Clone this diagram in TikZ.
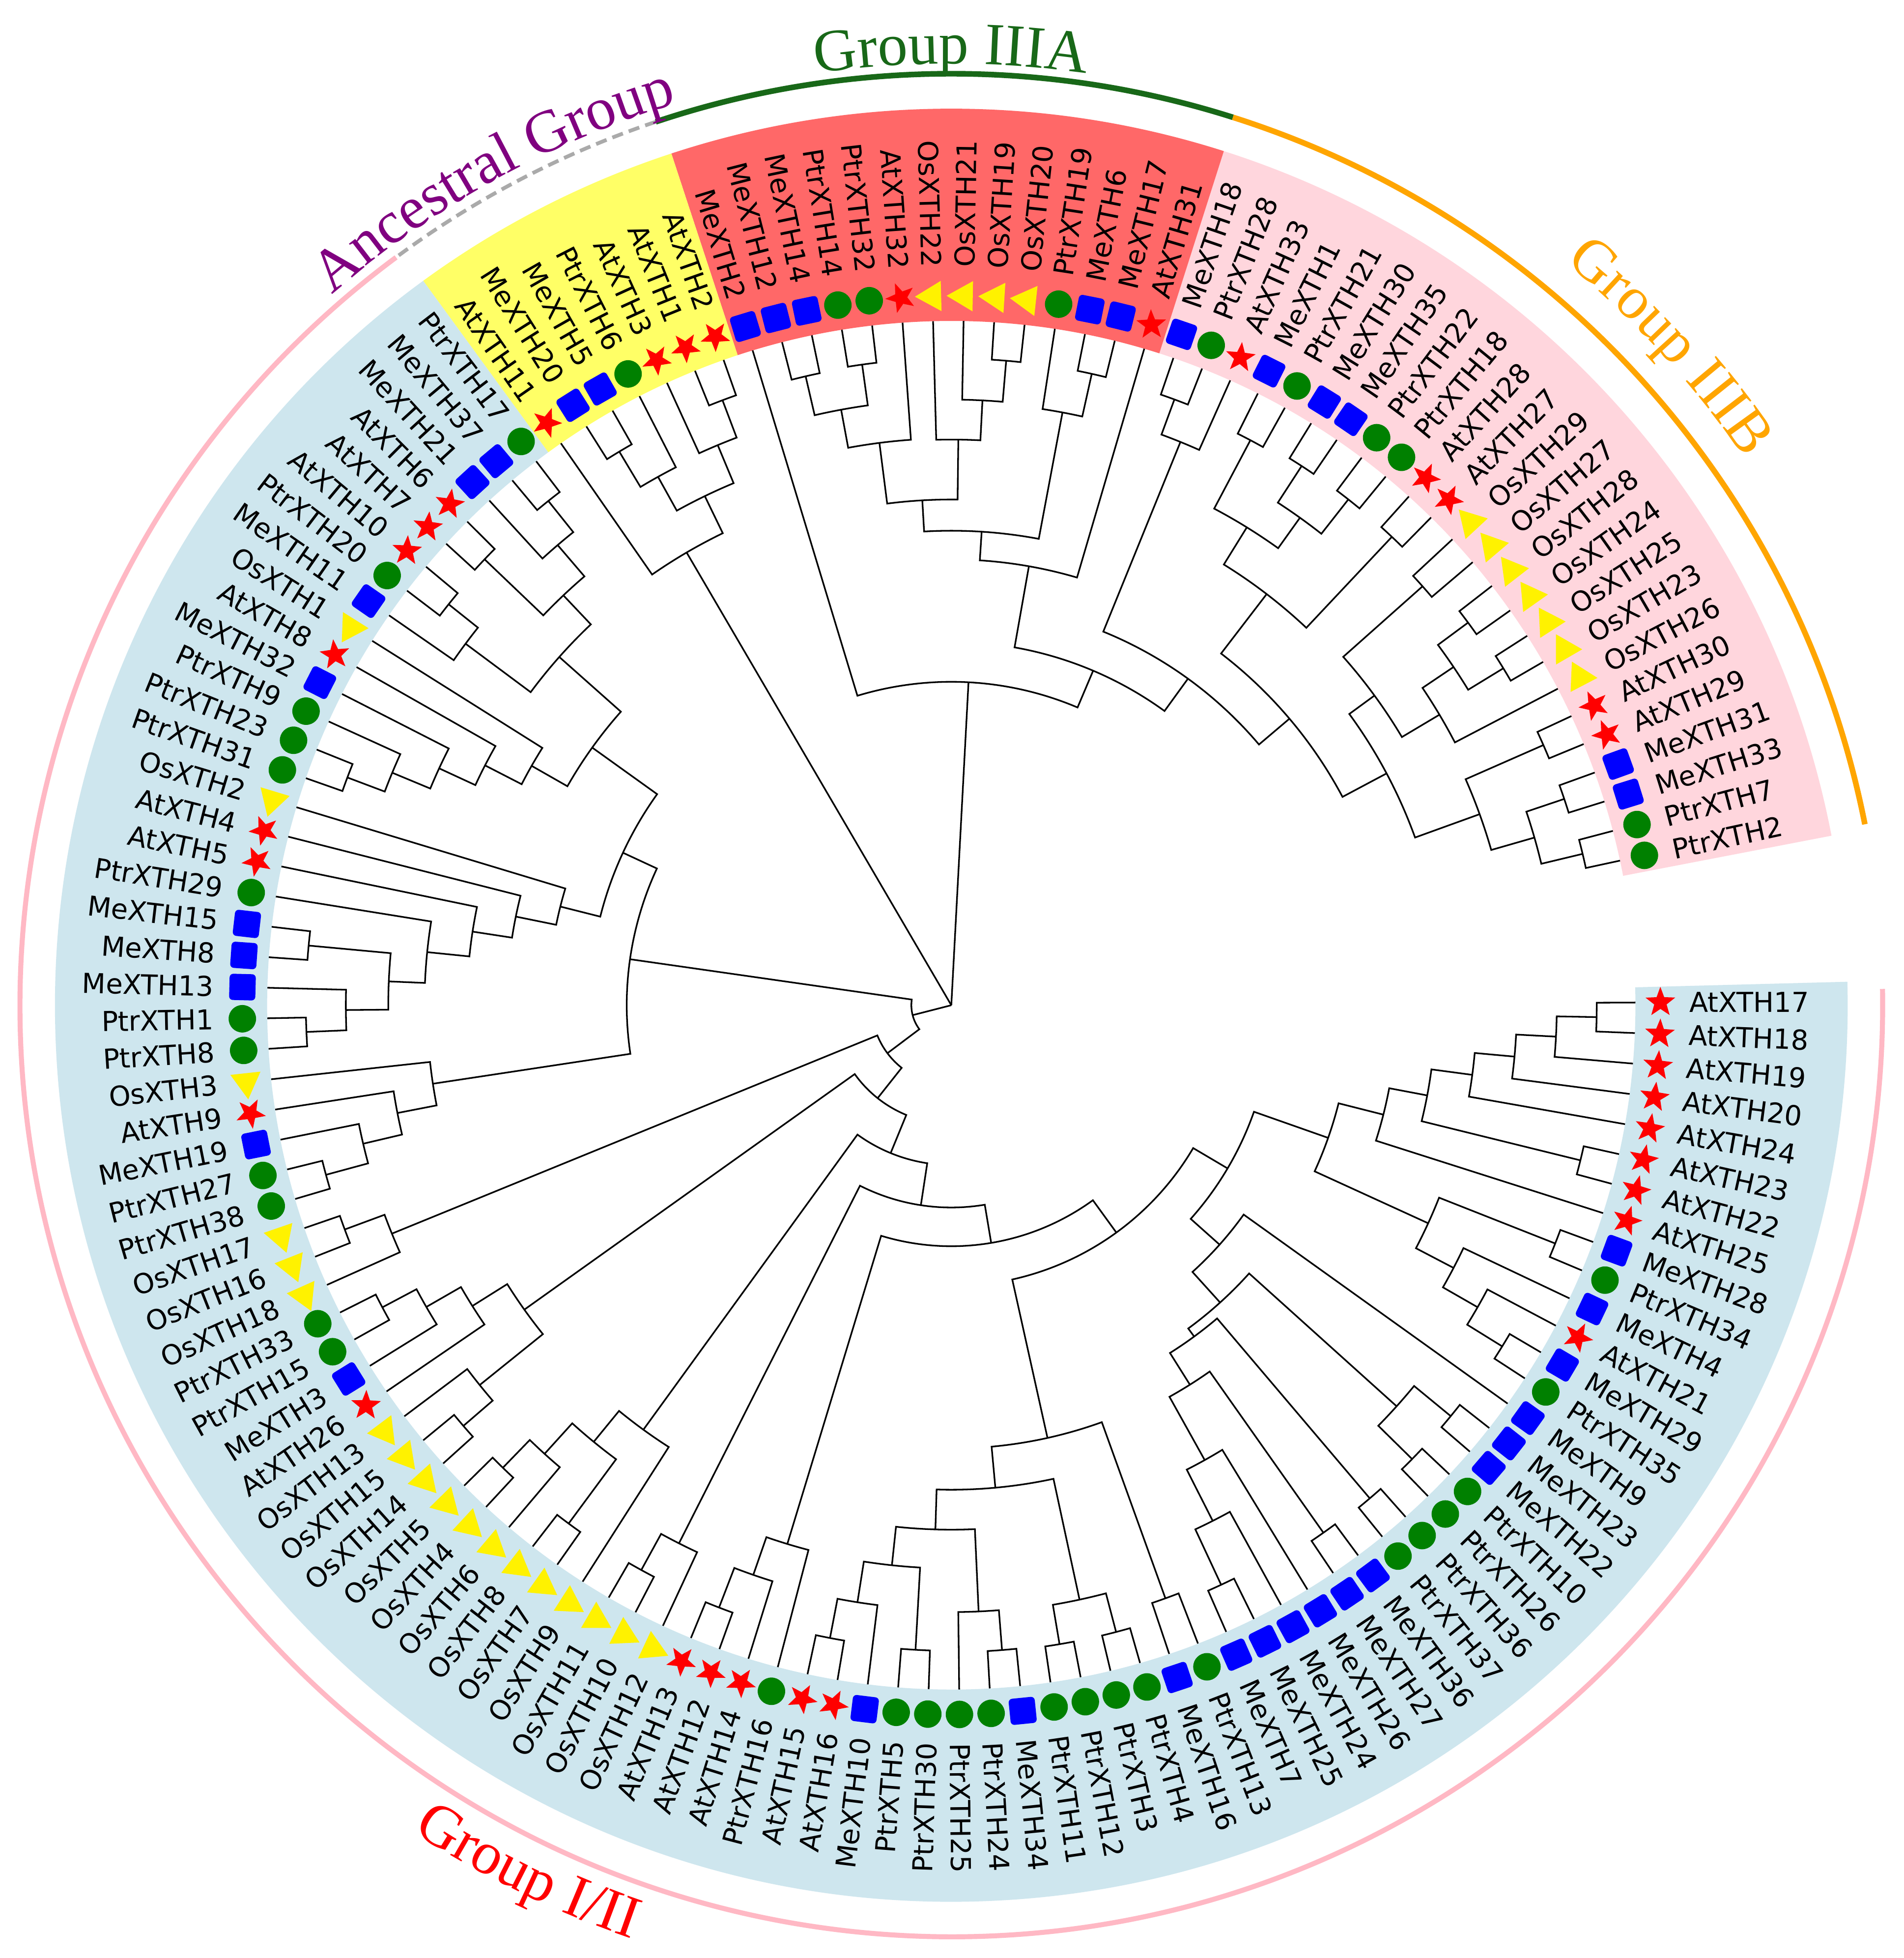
\documentclass[tikz,border=0pt]{standalone}
\usepackage{fontspec}
\setmainfont{DejaVu Sans}
\newfontfamily\labelfont{DejaVu Sans}
\newfontfamily\titlefont{Liberation Serif}
\usetikzlibrary{shapes.geometric,decorations.text}

\definecolor{bandIIIB}{RGB}{255,214,221}
\definecolor{bandIIIA}{RGB}{255,104,104}
\definecolor{bandAnc}{RGB}{255,255,102}
\definecolor{bandI}{RGB}{206,230,238}
\definecolor{arcIIIA}{RGB}{24,104,24}
\definecolor{arcIIIB}{RGB}{255,165,0}
\definecolor{arcI}{RGB}{255,184,196}
\definecolor{arcAnc}{RGB}{170,170,170}
\definecolor{txtAnc}{RGB}{128,0,128}
\definecolor{mkgreen}{RGB}{0,128,0}

\tikzset{
  branch/.style={line width=1.3pt,black,line join=miter},
  lbl/.style={inner sep=0pt,font=\labelfont\fontsize{22}{22}\selectfont},
  mka/.style={star,star points=5,star point ratio=2.4,fill=red,inner sep=0pt,minimum size=25pt},
  mkm/.style={rectangle,rounded corners=3pt,fill=blue,inner sep=0pt,minimum size=21pt},
  mkp/.style={circle,fill=mkgreen,inner sep=0pt,minimum size=22pt},
  mko/.style={regular polygon,regular polygon sides=3,fill=yellow,inner sep=0pt,minimum size=28pt},
  grouptitle/.style={decorate,decoration={text along path,text align=center,text={#1}}}
}

% one clade: name, radius, child, child
\newcommand\clade[4]{%
  \pgfmathsetmacro\cladeA{\csname ta@#3\endcsname}%
  \pgfmathsetmacro\cladeB{\csname ta@#4\endcsname}%
  \edef\cladeRA{\csname tr@#3\endcsname}%
  \edef\cladeRB{\csname tr@#4\endcsname}%
  \pgfmathsetmacro\cladeM{(\cladeA+\cladeB)/2}%
  \expandafter\xdef\csname ta@#1\endcsname{\cladeM}%
  \expandafter\xdef\csname tr@#1\endcsname{#2}%
  \draw[branch] (\cladeA:\cladeRA) -- (\cladeA:#2)
    arc[start angle=\cladeA,end angle=\cladeB,radius=#2] -- (\cladeB:\cladeRB);%
}
\newcommand\rootstem[1]{%
  \draw[branch] (0,0) -- ({\csname ta@#1\endcsname}:\csname tr@#1\endcsname);}
\newcommand\band[3]{%
  \fill[#1] (#2:548) arc[start angle=#2,end angle=#3,radius=548]
    -- (#3:718) arc[start angle=#3,end angle=#2,radius=718] -- cycle;}

\begin{document}
\begin{tikzpicture}[x=1pt,y=1pt]
\useasboundingbox (-762,-763) rectangle (763,805);
\fill[white] (-762,-763) rectangle (763,805);

\band{bandIIIB}{10.9}{72.3}
\band{bandIIIA}{72.3}{108.2}
\band{bandAnc}{108.2}{126.1}
\band{bandI}{126.1}{361.5}

\draw[arcI,line width=4pt] (126.6:746) arc[start angle=126.6,end angle=361,radius=746];
\draw[arcAnc,line width=3pt,dash pattern=on 9pt off 5pt] (108.5:746) arc[start angle=108.5,end angle=126.6,radius=746];
\draw[arcIIIA,line width=4.5pt] (72.4:746) arc[start angle=72.4,end angle=108.5,radius=746];
\draw[arcIIIB,line width=4.5pt] (11.2:746) arc[start angle=11.2,end angle=72.4,radius=746];

\path[grouptitle={|\titlefont\fontsize{48}{48}\selectfont\color{arcIIIA}|Group IIIA}]
  (105:754) arc[start angle=105,end angle=75,radius=754];
\path[grouptitle={|\titlefont\fontsize{48}{48}\selectfont\color{txtAnc}|Ancestral Group}]
  (140:755) arc[start angle=140,end angle=98,radius=755];
\path[grouptitle={|\titlefont\fontsize{48}{48}\selectfont\color{arcIIIB}|Group IIIB}]
  (60:772) arc[start angle=60,end angle=25,radius=772];
\path[grouptitle={|\titlefont\fontsize{48}{48}\selectfont\color{red}|Group I/II}]
  (225:790) arc[start angle=225,end angle=263,radius=790];

\foreach \i in {0,...,136}{%
  \pgfmathsetmacro\a{12.2+\i*2.559}%
  \expandafter\xdef\csname ta@\i\endcsname{\a}%
  \expandafter\xdef\csname tr@\i\endcsname{548}}

% Group IIIB
\clade{b01}{520}{0}{1}
\clade{b23}{518}{2}{3}
\clade{b03}{486}{b01}{b23}
\clade{b45}{518}{4}{5}
\clade{b05}{450}{b03}{b45}
\clade{o78}{518}{7}{8}
\clade{o910}{515}{9}{10}
\clade{o710}{485}{o78}{o910}
\clade{o610}{455}{6}{o710}
\clade{o1112}{505}{11}{12}
\clade{o612}{420}{o610}{o1112}
\clade{b012}{395}{b05}{o612}
\clade{q1314}{515}{13}{14}
\clade{q1516}{515}{15}{16}
\clade{q1718}{515}{17}{18}
\clade{q1920}{512}{19}{20}
\clade{q1518}{480}{q1516}{q1718}
\clade{q1520}{450}{q1518}{q1920}
\clade{q1320}{415}{q1314}{q1520}
\clade{b020}{355}{b012}{q1320}
\clade{c2223}{517}{22}{23}
\clade{c2123}{487}{21}{c2223}
\clade{IIIB}{323}{b020}{c2123}
% Group IIIA
\clade{f2526}{518}{25}{26}
\clade{f2527}{483}{f2526}{27}
\clade{e2829}{518}{28}{29}
\clade{e2830}{485}{e2829}{30}
\clade{e2831}{453}{e2830}{31}
\clade{d3334}{518}{33}{34}
\clade{d3536}{517}{35}{36}
\clade{d3336}{485}{d3334}{d3536}
\clade{d3236}{454}{32}{d3336}
\clade{ed}{405}{e2831}{d3236}
\clade{hA}{380}{f2527}{ed}
\clade{IIIAa}{357}{24}{hA}
\clade{X}{291}{IIIB}{IIIAa}
\clade{RA}{259}{X}{37}
% Ancestral Group
\clade{a3839}{518}{38}{39}
\clade{a3840}{486}{a3839}{40}
\clade{a4243}{517}{42}{43}
\clade{a4143}{484}{41}{a4243}
\clade{a3843}{453}{a3840}{a4143}
\clade{ANC}{420}{a3843}{44}
% Group I/II
\clade{t4546}{517}{45}{46}
\clade{t4547}{485}{t4546}{47}
\clade{t4849}{517}{48}{49}
\clade{t4549}{452}{t4547}{t4849}
\clade{t5051}{515}{50}{51}
\clade{t5052}{485}{t5051}{52}
\clade{t4552}{420}{t4549}{t5052}
\clade{c5758}{517}{57}{58}
\clade{c5658}{485}{56}{c5758}
\clade{c5558}{452}{55}{c5658}
\clade{c5458}{420}{54}{c5558}
\clade{c5358}{387}{53}{c5458}
\clade{c4558}{354}{t4552}{c5358}
\clade{g6364}{517}{63}{64}
\clade{g6667}{517}{66}{67}
\clade{g6567}{485}{65}{g6667}
\clade{g6367}{451}{g6364}{g6567}
\clade{g6267}{422}{62}{g6367}
\clade{g6167}{388}{61}{g6267}
\clade{g6067}{356}{60}{g6167}
\clade{g5967}{323}{59}{g6067}
\clade{U}{290}{c4558}{g5967}
\clade{l7172}{519}{71}{72}
\clade{l7072}{484}{70}{l7172}
\clade{l6972}{452}{69}{l7072}
\clade{l6872}{420}{68}{l6972}
\clade{L}{260}{U}{l6872}
\clade{k7374}{518}{73}{74}
\clade{k7375}{484}{k7374}{75}
\clade{k7677}{516}{76}{77}
\clade{k7678}{485}{k7677}{78}
\clade{k7679}{453}{k7678}{79}
\clade{p8182}{516}{81}{82}
\clade{p8082}{485}{80}{p8182}
\clade{Kb}{420}{k7679}{p8082}
\clade{q8384}{516}{83}{84}
\clade{q8385}{485}{q8384}{85}
\clade{q8687}{516}{86}{87}
\clade{q8387}{452}{q8385}{q8687}
\clade{Kc}{420}{q8387}{88}
\clade{o8990}{516}{89}{90}
\clade{o8991}{483}{o8990}{91}
\clade{x9293}{517}{92}{93}
\clade{x9294}{483}{x9293}{94}
\clade{x9295}{451}{x9294}{95}
\clade{B1}{516}{96}{97}
\clade{B2}{484}{B1}{98}
\clade{p99}{517}{99}{100}
\clade{B3}{451}{B2}{p99}
\clade{p102}{518}{102}{103}
\clade{p101}{486}{101}{p102}
\clade{B4}{420}{B3}{p101}
\clade{p104}{519}{104}{105}
\clade{p106}{519}{106}{107}
\clade{p107}{487}{p104}{p106}
\clade{B5}{388}{B4}{p107}
\clade{p108}{505}{108}{109}
\clade{B6}{355}{B5}{p108}
\clade{me1}{512}{110}{111}
\clade{me2}{463}{me1}{112}
\clade{me3}{417}{me2}{113}
\clade{p114}{517}{114}{115}
\clade{me4}{359}{me3}{p114}
\clade{p116}{518}{116}{117}
\clade{me5}{329}{me4}{p116}
\clade{p118}{518}{118}{119}
\clade{p120}{518}{120}{121}
\clade{Zp}{480}{p118}{p120}
\clade{M1}{321}{me5}{Zp}
\clade{M}{288}{M1}{122}
\clade{y1}{519}{123}{124}
\clade{y2}{486}{y1}{125}
\clade{y3}{454}{y2}{126}
\clade{p127}{520}{127}{128}
\clade{Y}{420}{y3}{p127}
\clade{A1r}{517}{135}{136}
\clade{A2r}{485}{134}{A1r}
\clade{A3r}{453}{133}{A2r}
\clade{A4r}{421}{132}{A3r}
\clade{p130}{519}{130}{131}
\clade{A5}{388}{A4r}{p130}
\clade{A6}{357}{129}{A5}
\clade{Rt}{320}{Y}{A6}
\clade{X2}{257}{M}{Rt}
\clade{B7}{225}{B6}{X2}
\clade{S5}{193}{x9295}{B7}
\clade{S4}{162}{o8991}{S5}
\clade{S3}{128}{Kc}{S4}
\clade{S2}{95}{Kb}{S3}
\clade{S1}{64}{k7375}{S2}
\clade{R3}{32}{L}{S1}
\rootstem{RA}
\rootstem{ANC}
\rootstem{R3}

\foreach \nm/\tp [count=\i from 0] in {PtrXTH2/p,PtrXTH7/p,MeXTH33/m,MeXTH31/m,AtXTH29/a,AtXTH30/a,
  OsXTH26/o,OsXTH23/o,OsXTH25/o,OsXTH24/o,OsXTH28/o,OsXTH27/o,OsXTH29/o,AtXTH27/a,AtXTH28/a,
  PtrXTH18/p,PtrXTH22/p,MeXTH35/m,MeXTH30/m,PtrXTH21/p,MeXTH1/m,AtXTH33/a,PtrXTH28/p,MeXTH18/m,
  AtXTH31/a,MeXTH17/m,MeXTH6/m,PtrXTH19/p,OsXTH20/o,OsXTH19/o,OsXTH21/o,OsXTH22/o,AtXTH32/a,
  PtrXTH32/p,PtrXTH14/p,MeXTH14/m,MeXTH12/m,MeXTH2/m,AtXTH2/a,AtXTH1/a,AtXTH3/a,PtrXTH6/p,
  MeXTH5/m,MeXTH20/m,AtXTH11/a,PtrXTH17/p,MeXTH37/m,MeXTH21/m,AtXTH6/a,AtXTH7/a,AtXTH10/a,
  PtrXTH20/p,MeXTH11/m,OsXTH1/o,AtXTH8/a,MeXTH32/m,PtrXTH9/p,PtrXTH23/p,PtrXTH31/p,OsXTH2/o,
  AtXTH4/a,AtXTH5/a,PtrXTH29/p,MeXTH15/m,MeXTH8/m,MeXTH13/m,PtrXTH1/p,PtrXTH8/p,OsXTH3/o,
  AtXTH9/a,MeXTH19/m,PtrXTH27/p,PtrXTH38/p,OsXTH17/o,OsXTH16/o,OsXTH18/o,PtrXTH33/p,PtrXTH15/p,
  MeXTH3/m,AtXTH26/a,OsXTH13/o,OsXTH15/o,OsXTH14/o,OsXTH5/o,OsXTH4/o,OsXTH6/o,OsXTH8/o,OsXTH7/o,
  OsXTH9/o,OsXTH11/o,OsXTH10/o,OsXTH12/o,AtXTH13/a,AtXTH12/a,AtXTH14/a,PtrXTH16/p,AtXTH15/a,
  AtXTH16/a,MeXTH10/m,PtrXTH5/p,PtrXTH30/p,PtrXTH25/p,PtrXTH24/p,MeXTH34/m,PtrXTH11/p,PtrXTH12/p,
  PtrXTH3/p,PtrXTH4/p,MeXTH16/m,PtrXTH13/p,MeXTH7/m,MeXTH25/m,MeXTH24/m,MeXTH26/m,MeXTH27/m,
  MeXTH36/m,PtrXTH37/p,PtrXTH36/p,PtrXTH26/p,PtrXTH10/p,MeXTH22/m,MeXTH23/m,MeXTH9/m,PtrXTH35/p,
  MeXTH29/m,AtXTH21/a,MeXTH4/m,PtrXTH34/p,MeXTH28/m,AtXTH25/a,AtXTH22/a,AtXTH23/a,AtXTH24/a,
  AtXTH20/a,AtXTH19/a,AtXTH18/a,AtXTH17/a}{
  \pgfmathsetmacro\a{12.2+\i*2.559}
  \pgfmathtruncatemacro\flip{(\a>90)&&(\a<270)}
  \if a\tp \node[mka,rotate=\a] (mk\i) at (\a:568) {};\fi
  \if m\tp \node[mkm,rotate=\a] (mk\i) at (\a:568) {};\fi
  \if p\tp \node[mkp] (mk\i) at (\a:568) {};\fi
  \if o\tp \node[mko,rotate=\a] (mk\i) at (\a:568) {};\fi
  \ifnum\flip=1
    \node[lbl,rotate=\a-180,anchor=east] (lb\i) at (\a:591) {\nm};
  \else
    \node[lbl,rotate=\a,anchor=west] (lb\i) at (\a:591) {\nm};
  \fi
}
\end{tikzpicture}
\end{document}
